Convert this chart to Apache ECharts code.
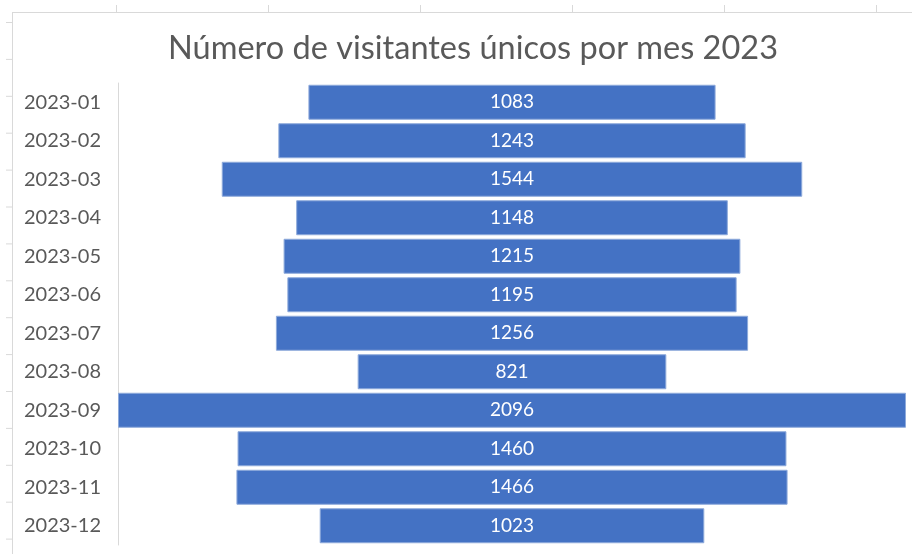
<!DOCTYPE html>
<html>
<head>
<meta charset="utf-8">
<script src="https://cdn.jsdelivr.net/npm/echarts@6/dist/echarts.min.js"></script>
<style>
html, body { margin: 0; padding: 0; background: #fff; }
#main { width: 912px; height: 554px; }
</style>
</head>
<body>
<div id="main"></div>
<script>
// datos
var months = ['2023-01', '2023-02', '2023-03', '2023-04', '2023-05', '2023-06',
    '2023-07', '2023-08', '2023-09', '2023-10', '2023-11', '2023-12'];
var visitors = [1083, 1243, 1544, 1148, 1215, 1195, 1256, 821, 2096, 1460, 1466, 1023];

var maxV = Math.max.apply(null, visitors);
// desplazamiento invisible para centrar cada barra (embudo)
var offsets = visitors.map(function (v) { return (maxV - v) / 2; });

var chart = echarts.init(document.getElementById('main'));

// marco y marcas del grafico de fondo
var deco = [
    { type: 'line', shape: { x1: 12, y1: 12.5, x2: 912, y2: 12.5 }, style: { stroke: '#d9d9d9', lineWidth: 1 } },
    { type: 'line', shape: { x1: 12.5, y1: 12, x2: 12.5, y2: 554 }, style: { stroke: '#d9d9d9', lineWidth: 1 } }
];
for (var i = 0; i < 6; i++) {
    var x = 116.5 + i * 152;
    deco.push({ type: 'line', shape: { x1: x, y1: 5, x2: x, y2: 12 }, style: { stroke: '#d9d9d9', lineWidth: 1 } });
}
for (var j = 0; j < 15; j++) {
    var y = 22.5 + j * 36.9;
    deco.push({ type: 'line', shape: { x1: 6, y1: y, x2: 12, y2: y }, style: { stroke: '#d9d9d9', lineWidth: 1 } });
}

chart.setOption({
    animation: false,
    title: {
        text: 'Número de visitantes únicos por mes 2023',
        left: 468,
        top: 27,
        textAlign: 'center',
        textStyle: { fontFamily: 'Lato', fontSize: 32.5, fontWeight: 'normal', color: '#595959' }
    },
    graphic: deco,
    grid: { left: 118, right: 6, top: 83, bottom: 9 },
    xAxis: {
        type: 'value',
        min: 0,
        max: maxV,
        show: false
    },
    yAxis: {
        type: 'category',
        inverse: true,
        data: months,
        axisLine: { show: true, lineStyle: { color: '#d9d9d9' } },
        axisTick: { show: false },
        axisLabel: { fontFamily: 'Lato', fontSize: 20, color: '#595959', margin: 17 }
    },
    series: [
        {
            type: 'bar',
            stack: 'embudo',
            data: offsets,
            itemStyle: { color: 'transparent' },
            silent: true
        },
        {
            type: 'bar',
            stack: 'embudo',
            data: visitors,
            barWidth: 35,
            itemStyle: { color: '#4472C4', borderColor: '#8eaadb', borderWidth: 1 },
            label: {
                show: true,
                position: 'inside',
                color: '#ffffff',
                fontFamily: 'Lato',
                fontSize: 19
            }
        }
    ]
});
</script>
</body>
</html>
